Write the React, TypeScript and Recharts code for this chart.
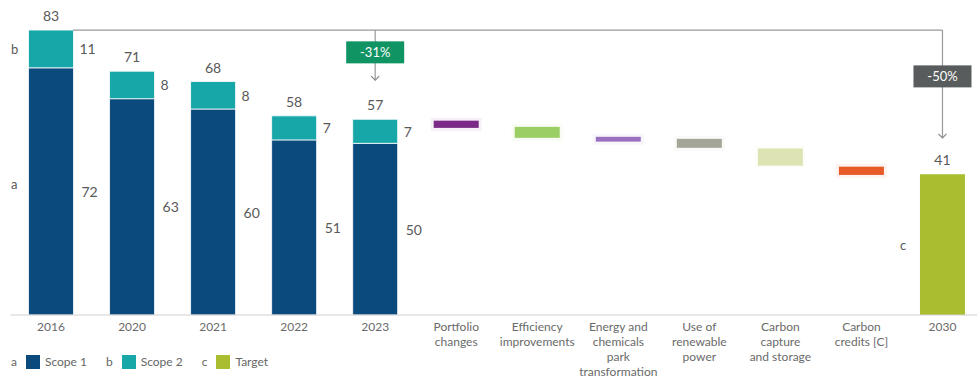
import React from 'react';
import { BarChart, Bar, XAxis, YAxis, Cell, LabelList, ReferenceLine, ReferenceDot } from 'recharts';

const categories = [
  '2016', '2020', '2021', '2022', '2023',
  'Portfolio changes', 'Efficiency improvements', 'Energy and chemicals park transformation',
  'Use of renewable power', 'Carbon capture and storage', 'Carbon credits [C]', '2030',
];

const tickLabels: string[][] = [
  ['2016'], ['2020'], ['2021'], ['2022'], ['2023'],
  ['Portfolio', 'changes'],
  ['Efficiency', 'improvements'],
  ['Energy and', 'chemicals', 'park', 'transformation'],
  ['Use of', 'renewable', 'power'],
  ['Carbon', 'capture', 'and storage'],
  ['Carbon', 'credits [C]'],
  ['2030'],
];

const years = ['2016', '2020', '2021', '2022', '2023'];
const scope1 = [72, 63, 60, 51, 50];
const scope2 = [11, 8, 8, 7, 7];
const totals = [83, 71, 68, 58, 57];

const leverCategories = categories.slice(5, 11);
const leverHigh = [56.6, 54.8, 51.9, 51.3, 48.5, 43.2];
const leverLow = [54.5, 51.6, 50.5, 48.7, 43.5, 40.8];
const leverColors = ['#7b2a88', '#9cce66', '#9a70c0', '#a3a696', '#dde3b3', '#e85a28'];

const target2030 = 41;
const baseline = 83;
const change2023 = '-31%';
const change2030 = '-50%';

const data = categories.map((name, i) => {
  const y = years.indexOf(name);
  const l = leverCategories.indexOf(name);
  return {
    name,
    lines: tickLabels[i],
    scope1: y >= 0 ? scope1[y] : 0,
    scope2: y >= 0 ? scope2[y] : 0,
    total: y >= 0 ? totals[y] : null,
    base: l >= 0 ? leverLow[l] : 0,
    step: l >= 0 ? +(leverHigh[l] - leverLow[l]).toFixed(1) : 0,
    target: name === '2030' ? target2030 : 0,
  };
});

const FONT = 'Lato, "Open Sans", sans-serif';
const TEXT = '#595959';

const AxisTick = (props: any) => {
  const { x, y, index } = props;
  const lines = tickLabels[index] || [];
  return (
    <text x={x} y={y + 8} textAnchor="middle" fill="#6a6a6a" fontSize={12} fontFamily={FONT}>
      {lines.map((t, k) => (
        <tspan key={k} x={x} dy={k === 0 ? 0 : 15}>{t}</tspan>
      ))}
    </text>
  );
};

const sideLabel = (dx: number) => (props: any) => {
  const { x, y, width, height, value } = props;
  if (!value) return null;
  return (
    <text x={x + width + dx} y={y + height / 2} dominantBaseline="central" fill={TEXT} fontSize={14} fontFamily={FONT}>
      {value}
    </text>
  );
};

const topLabel = (gap: number) => (props: any) => {
  const { x, y, width, value } = props;
  if (!value) return null;
  return (
    <text x={x + width / 2} y={y - gap} textAnchor="middle" fill={TEXT} fontSize={14} fontFamily={FONT}>
      {value}
    </text>
  );
};

const LeverShape = (props: any) => {
  const { x, y, width, height, fill } = props;
  if (!height) return null;
  return (
    <g>
      <rect x={x - 3} y={y - 3} width={width + 6} height={height + 6} fill={fill} opacity={0.07} />
      <rect x={x} y={y} width={width} height={height} fill={fill} />
    </g>
  );
};

const Chevron = (props: any) => {
  const { cx, cy } = props;
  return <path d={`M${cx - 4},${cy - 4} L${cx},${cy} L${cx + 4},${cy - 4}`} stroke="#888" strokeWidth={1.2} fill="none" />;
};

const boxShape = (text: string, fill: string) => (props: any) => {
  const { cx, cy } = props;
  return (
    <g>
      <rect x={cx - 29} y={cy - 11} width={58} height={22} fill={fill} />
      <text x={cx} y={cy} textAnchor="middle" dominantBaseline="central" fill="#fff" fontSize={13} fontFamily={FONT}>
        {text}
      </text>
    </g>
  );
};

const BracketLine = (props: any) => {
  const { x1, y1, x2, y2 } = props;
  return <line x1={x1 + 22} y1={y1} x2={x2} y2={y2} stroke="#999" strokeWidth={1.2} />;
};

const PlainLine = (props: any) => {
  const { x1, y1, x2, y2 } = props;
  return <line x1={x1} y1={y1} x2={x2} y2={y2} stroke="#999" strokeWidth={1.2} />;
};

const legendItems = [
  { key: 'a', label: 'Scope 1', color: '#0b4a7d' },
  { key: 'b', label: 'Scope 2', color: '#17a7a8' },
  { key: 'c', label: 'Target', color: '#a9bd2e' },
];

export default function App() {
  return (
    <div style={{ position: 'absolute', left: 0, top: 0, width: 977, height: 378, overflow: 'hidden', background: '#fff', fontFamily: FONT }}>
      <BarChart width={983} height={378} data={data} margin={{ top: 6, right: 0, left: 10.5, bottom: 0 }}>
        <XAxis
          dataKey="name"
          height={63}
          tickLine={false}
          axisLine={{ stroke: '#d0d0d0' }}
          tick={<AxisTick />}
          interval={0}
        />
        <YAxis hide domain={[0, 90]} />
        <Bar dataKey="scope1" stackId="s" barSize={45} fill="#0b4a7d" stroke="#fff" strokeWidth={0.8} isAnimationActive={false}>
          <LabelList dataKey="scope1" content={sideLabel(8)} />
        </Bar>
        <Bar dataKey="scope2" stackId="s" barSize={45} fill="#17a7a8" stroke="#fff" strokeWidth={0.8} isAnimationActive={false}>
          <LabelList dataKey="scope2" content={sideLabel(6)} />
          <LabelList dataKey="total" content={topLabel(9)} />
        </Bar>
        <Bar dataKey="base" stackId="s" barSize={45} fill="transparent" isAnimationActive={false} />
        <Bar dataKey="step" stackId="s" barSize={45} shape={<LeverShape />} isAnimationActive={false}>
          {data.map((d, i) => {
            const l = leverCategories.indexOf(d.name);
            return <Cell key={i} fill={l >= 0 ? leverColors[l] : 'transparent'} />;
          })}
        </Bar>
        <Bar dataKey="target" stackId="s" barSize={45} fill="#a9bd2e" isAnimationActive={false}>
          <LabelList dataKey="target" content={topLabel(9)} />
        </Bar>
        <ReferenceLine segment={[{ x: '2016', y: baseline }, { x: '2030', y: baseline }]} shape={<BracketLine />} />
        <ReferenceLine segment={[{ x: '2023', y: baseline }, { x: '2023', y: 68.4 }]} shape={<PlainLine />} />
        <ReferenceLine segment={[{ x: '2030', y: baseline }, { x: '2030', y: 51.6 }]} shape={<PlainLine />} />
        <ReferenceDot x="2023" y={68.4} r={4} shape={<Chevron />} />
        <ReferenceDot x="2030" y={51.6} r={4} shape={<Chevron />} />
        <ReferenceDot x="2023" y={76.5} r={4} shape={boxShape(change2023, '#119464')} />
        <ReferenceDot x="2030" y={69.5} r={4} shape={boxShape(change2030, '#585c5c')} />
      </BarChart>

      <div style={{ position: 'absolute', left: 11, top: 41, fontSize: 13, color: TEXT }}>b</div>
      <div style={{ position: 'absolute', left: 11, top: 176, fontSize: 13, color: TEXT }}>a</div>
      <div style={{ position: 'absolute', left: 900, top: 237, fontSize: 13, color: TEXT }}>c</div>

      <div style={{ position: 'absolute', left: 11, top: 354, display: 'flex', alignItems: 'center', fontSize: 12, color: '#666' }}>
        {legendItems.map((it) => (
          <div key={it.key} style={{ display: 'flex', alignItems: 'center', marginRight: 19 }}>
            <span style={{ marginRight: 9 }}>{it.key}</span>
            <span style={{ width: 14, height: 14, background: it.color, display: 'inline-block', marginRight: 5 }} />
            <span>{it.label}</span>
          </div>
        ))}
      </div>
    </div>
  );
}
